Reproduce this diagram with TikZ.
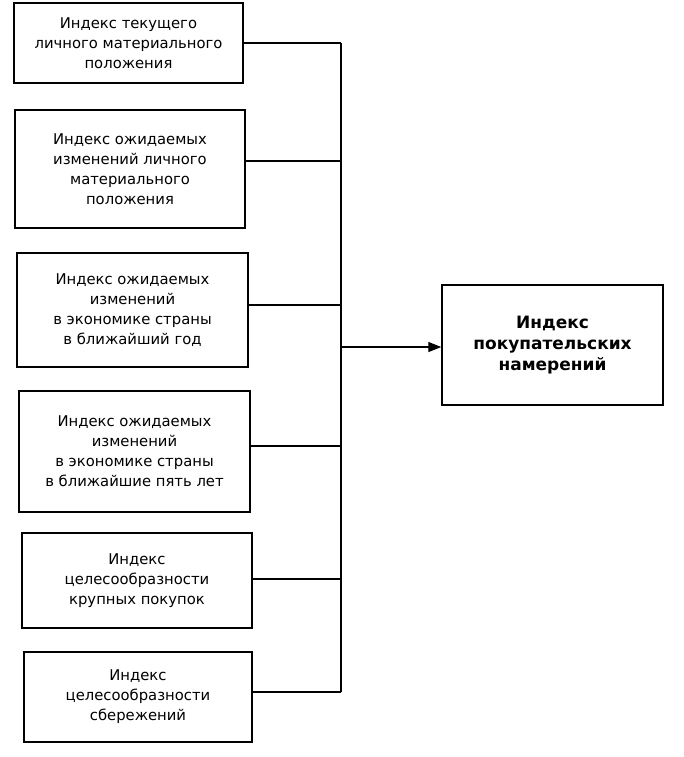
\documentclass[tikz,border=0pt]{standalone}
\usepackage{fontspec}
\setmainfont{DejaVu Sans}
\usetikzlibrary{arrows.meta, positioning, calc}

\tikzset{
    factor/.style={draw, line width=1.4pt, rectangle, align=center, inner sep=2pt,
        font=\fontsize{14.8}{20}\selectfont},
    result/.style={factor, font=\fontsize{17}{21}\selectfont\bfseries},
    link/.style={line width=1.3pt}
}

\begin{document}
\begin{tikzpicture}[x=1pt, y=-1pt]
    \useasboundingbox (0,0) rectangle (683,757);

    % Factor indices
    \node[factor, minimum width=229, minimum height=80] (b1) at (128.5, 43)
        {Индекс текущего\\ личного материального\\ положения};
    \node[factor, minimum width=230, minimum height=118] (b2) at (130, 169)
        {Индекс ожидаемых\\ изменений личного\\ материального\\ положения};
    \node[factor, minimum width=231, minimum height=114] (b3) at (132.5, 310)
        {Индекс ожидаемых\\ изменений\\ в экономике страны\\ в ближайший год};
    \node[factor, minimum width=231, minimum height=121] (b4) at (134.5, 451.5)
        {Индекс ожидаемых\\ изменений\\ в экономике страны\\ в ближайшие пять лет};
    \node[factor, minimum width=230, minimum height=95] (b5) at (137, 580.5)
        {Индекс\\ целесообразности\\ крупных покупок};
    \node[factor, minimum width=228, minimum height=90] (b6) at (138, 697)
        {Индекс\\ целесообразности\\ сбережений};

    % Resulting index
    \node[result, minimum width=221, minimum height=120] (res) at (552.5, 345)
        {Индекс\\ покупательских\\ намерений};

    % Bus
    \foreach \i/\y in {1/43, 2/161, 3/305, 4/446, 5/579, 6/692} {
        \coordinate (j\i) at (341, \y);
        \draw[link] (b\i.east |- j\i) -- (j\i);
    }
    \draw[link] (j1) -- (j6);

    % Arrow to result
    \coordinate (ja) at (341, 347);
    \draw[link, -{Triangle[length=13pt, width=10pt]}] (ja) -- (ja -| res.west);
\end{tikzpicture}
\end{document}
